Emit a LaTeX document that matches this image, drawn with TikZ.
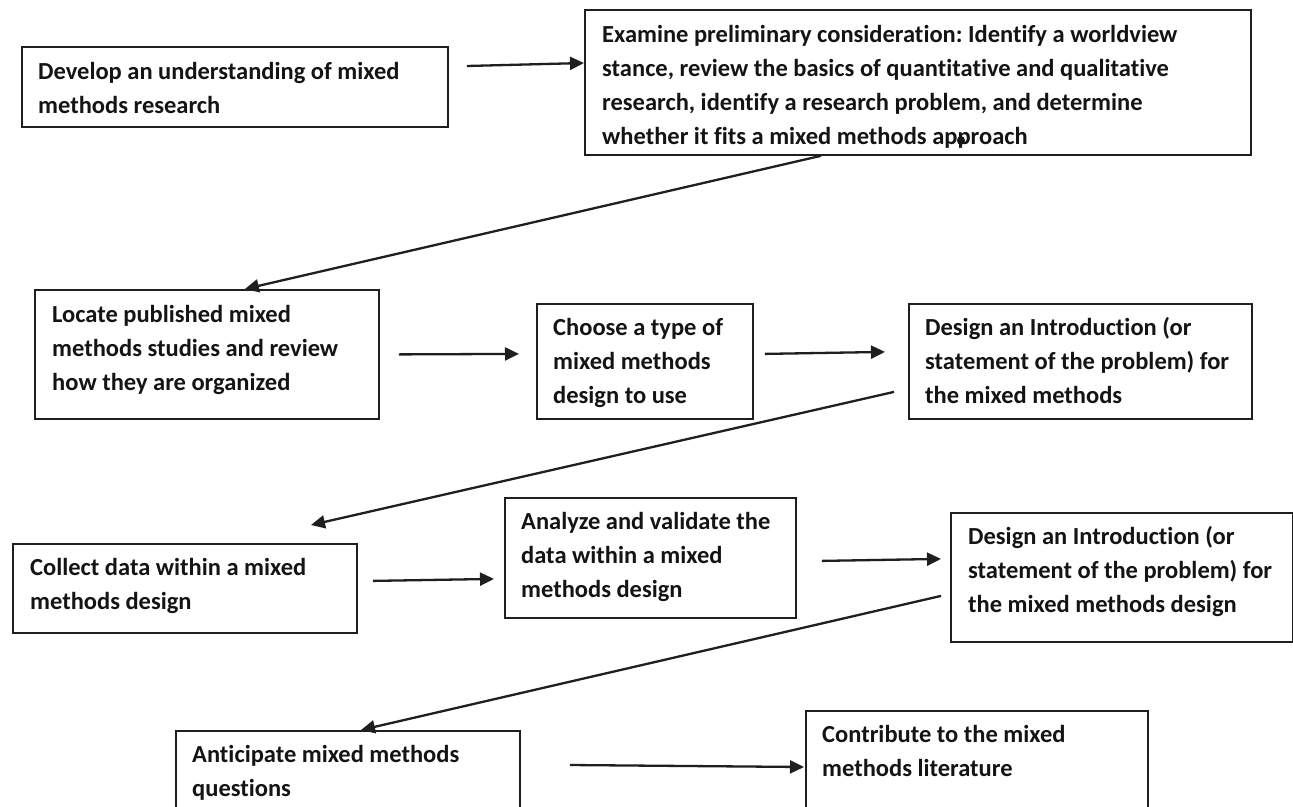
\documentclass[tikz,border=0pt]{standalone}
\usepackage{fontspec}
\setmainfont{Carlito}[Ligatures=NoCommon]
\frenchspacing
\usetikzlibrary{arrows.meta}

\tikzset{
  stepbox/.style={draw=black!88, line width=1.8pt, anchor=north west, inner sep=0pt, rectangle},
  steptext/.style={anchor=north west, inner sep=0pt, align=left, text=black!92,
    font=\fontsize{24.5}{34}\selectfont\bfseries},
  flow/.style={draw=black!88, line width=2.3pt, -{Triangle[length=14pt, width=13pt]}},
}

\begin{document}
\begin{tikzpicture}[x=1pt, y=-1pt]
  \clip (0,0) rectangle (1293,806);
  \fill[white] (0,0) rectangle (1293,806);

  % step boxes
  \node[stepbox, minimum width=426, minimum height=80]  (dev) at (21,46)   {};
  \node[stepbox, minimum width=666, minimum height=145] (exa) at (584,9)   {};
  \node[stepbox, minimum width=344, minimum height=129] (loc) at (34,289)  {};
  \node[stepbox, minimum width=216, minimum height=115] (cho) at (536,303) {};
  \node[stepbox, minimum width=343, minimum height=115] (de1) at (908,303) {};
  \node[stepbox, minimum width=291, minimum height=120] (ana) at (504,497) {};
  \node[stepbox, minimum width=344, minimum height=89]  (col) at (12,543)  {};
  \node[stepbox, minimum width=342, minimum height=129] (de2) at (950,512) {};
  \node[stepbox, minimum width=344, minimum height=110] (ant) at (175,730) {};
  \node[stepbox, minimum width=342, minimum height=130] (con) at (805,710) {};

  % step texts
  \node[steptext] (dev-t) at (38,55)  {\strut Develop an understanding of mixed\\methods research};
  \node[steptext] (exa-t) at (602,18) {\strut Examine preliminary consideration: Identify a worldview\\stance, review the basics of quantitative and qualitative\\research, identify a research problem, and determine\\whether it fits a mixed methods approach};
  \node[steptext] (loc-t) at (52,298) {\strut Locate published mixed\\methods studies and review\\how they are organized};
  \node[steptext] (cho-t) at (553,311) {\strut Choose a type of\\mixed methods\\design to use};
  \node[steptext] (de1-t) at (925,311) {\strut Design an Introduction (or\\statement of the problem) for\\the mixed methods};
  \node[steptext] (ana-t) at (521,505) {\strut Analyze and validate the\\data within a mixed\\methods design};
  \node[steptext] (col-t) at (30,551)  {\strut Collect data within a mixed\\methods design};
  \node[steptext] (de2-t) at (968,520) {\strut Design an Introduction (or\\statement of the problem) for\\the mixed methods design};
  \node[steptext] (ant-t) at (192,738) {\strut Anticipate mixed methods\\questions};
  \node[steptext] (con-t) at (822,718) {\strut Contribute to the mixed\\methods literature};

  % ink blot on the second p of "approach"
  \fill[black!92] (961,140.5) ellipse (4pt and 4.5pt);

  % connectors
  \draw[flow] ([shift={(18,20)}]dev.north east) -- ([shift={(0,54)}]exa.north west);
  \draw[flow] ([shift={(237,0)}]exa.south west) -- ([shift={(38,0)}]loc.north);
  \draw[flow] ([shift={(19,0)}]loc.east) -- ([shift={(-17,-7.5)}]cho.west);
  \draw[flow] ([shift={(11,-7.5)}]cho.east) -- ([shift={(-23,-9.5)}]de1.west);
  \draw[flow] ([shift={(-14,30.5)}]de1.west) -- ([shift={(299,-18)}]col.north west);
  \draw[flow] ([shift={(15,-7.5)}]col.east) -- ([shift={(-10,21)}]ana.west);
  \draw[flow] ([shift={(25,3)}]ana.east) -- ([shift={(-9,-18.5)}]de2.west);
  \draw[flow] ([shift={(-9,18.5)}]de2.west) -- ([shift={(186,0)}]ant.north west);
  \draw[flow] ([shift={(49,35)}]ant.north east) -- ([shift={(-1,57)}]con.north west);
\end{tikzpicture}
\end{document}
